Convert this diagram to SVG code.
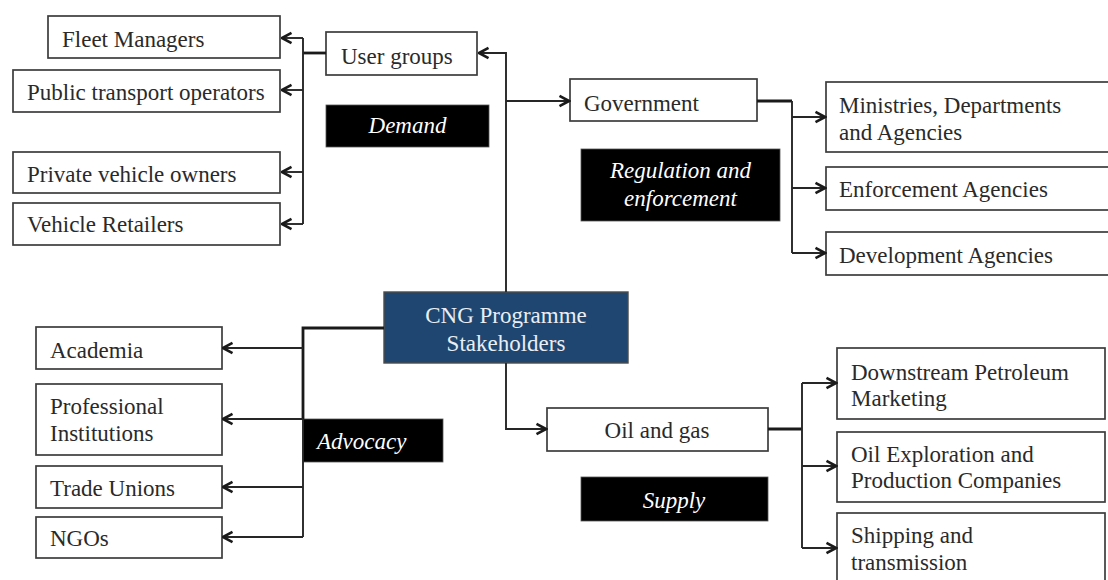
<svg xmlns="http://www.w3.org/2000/svg" width="1108" height="580" viewBox="0 0 1108 580">
  <style>
    .box { fill: #ffffff; stroke: #3c3c3c; stroke-width: 1.7; }
    .tag { fill: #000000; stroke: #555555; stroke-width: 0.8; }
    .hub { fill: #1e4671; stroke: #4a4a4a; stroke-width: 1.4; }
    .txt { font-family: "Liberation Serif", "Times New Roman", serif; font-size: 23px; fill: #2a2a2a; }
    .ital { font-family: "Liberation Serif", "Times New Roman", serif; font-size: 23px; font-style: italic; fill: #ffffff; }
    .hubtxt { font-family: "Liberation Serif", "Times New Roman", serif; font-size: 23px; fill: #e9eef4; }
    .wire { fill: none; stroke: #262626; stroke-width: 1.9; }
    .stem { fill: none; stroke: #1a1a1a; stroke-width: 2.8; }
    .arrow { fill: none; stroke: #262626; stroke-width: 1.9; marker-end: url(#chev); }
  </style>
  <defs>
    <marker id="chev" viewBox="0 0 14 14" refX="12.5" refY="7" markerWidth="14" markerHeight="14" markerUnits="userSpaceOnUse" orient="auto">
      <path d="M3,1.8 L12.5,7 L3,12.2" fill="none" stroke="#1a1a1a" stroke-width="2.6"/>
    </marker>
  </defs>

  <!-- central node -->
  <g id="hub">
    <rect class="hub" x="384" y="292" width="244" height="71"/>
    <text class="hubtxt" x="506" y="323" text-anchor="middle">CNG Programme</text>
    <text class="hubtxt" x="506" y="351" text-anchor="middle">Stakeholders</text>
  </g>

  <!-- demand branch -->
  <g id="user-groups">
    <rect class="box" x="326" y="32" width="151" height="43"/>
    <text class="txt" x="341" y="64">User groups</text>
  </g>
  <g id="demand-label">
    <rect class="tag" x="326" y="105" width="163" height="42"/>
    <text class="ital" x="407.5" y="133" text-anchor="middle">Demand</text>
  </g>
  <g id="fleet-managers">
    <rect class="box" x="48" y="16" width="232" height="42"/>
    <text class="txt" x="62" y="47">Fleet Managers</text>
  </g>
  <g id="public-transport">
    <rect class="box" x="13" y="70" width="267" height="42"/>
    <text class="txt" x="27" y="100">Public transport operators</text>
  </g>
  <g id="private-owners">
    <rect class="box" x="13" y="152" width="267" height="41"/>
    <text class="txt" x="27" y="182">Private vehicle owners</text>
  </g>
  <g id="vehicle-retailers">
    <rect class="box" x="13" y="203" width="267" height="42"/>
    <text class="txt" x="27" y="232">Vehicle Retailers</text>
  </g>

  <!-- regulation branch -->
  <g id="government">
    <rect class="box" x="570" y="79" width="187" height="42"/>
    <text class="txt" x="584" y="111">Government</text>
  </g>
  <g id="regulation-label">
    <rect class="tag" x="581" y="149" width="199" height="72"/>
    <text class="ital" x="680.5" y="178" text-anchor="middle">Regulation and</text>
    <text class="ital" x="680.5" y="206" text-anchor="middle">enforcement</text>
  </g>
  <g id="ministries">
    <rect class="box" x="826" y="82" width="290" height="70"/>
    <text class="txt" x="839" y="113">Ministries, Departments</text>
    <text class="txt" x="839" y="140">and Agencies</text>
  </g>
  <g id="enforcement">
    <rect class="box" x="826" y="167" width="290" height="43"/>
    <text class="txt" x="839" y="197">Enforcement Agencies</text>
  </g>
  <g id="development">
    <rect class="box" x="826" y="232" width="290" height="43"/>
    <text class="txt" x="839" y="263">Development Agencies</text>
  </g>

  <!-- supply branch -->
  <g id="oil-gas">
    <rect class="box" x="547" y="408" width="221" height="43"/>
    <text class="txt" x="657" y="438" text-anchor="middle">Oil and gas</text>
  </g>
  <g id="supply-label">
    <rect class="tag" x="581" y="477" width="187" height="44"/>
    <text class="ital" x="674" y="508" text-anchor="middle">Supply</text>
  </g>
  <g id="downstream">
    <rect class="box" x="837" y="348" width="268" height="71"/>
    <text class="txt" x="851" y="380">Downstream Petroleum</text>
    <text class="txt" x="851" y="406">Marketing</text>
  </g>
  <g id="exploration">
    <rect class="box" x="837" y="432" width="268" height="70"/>
    <text class="txt" x="851" y="462">Oil Exploration and</text>
    <text class="txt" x="851" y="488">Production Companies</text>
  </g>
  <g id="shipping">
    <rect class="box" x="837" y="513" width="268" height="80"/>
    <text class="txt" x="851" y="543">Shipping and</text>
    <text class="txt" x="851" y="570">transmission</text>
  </g>

  <!-- advocacy branch -->
  <g id="advocacy-label">
    <rect class="tag" x="303" y="419" width="140" height="43"/>
    <text class="ital" x="317" y="449">Advocacy</text>
  </g>
  <g id="academia">
    <rect class="box" x="36" y="327" width="186" height="42"/>
    <text class="txt" x="50" y="358">Academia</text>
  </g>
  <g id="professional">
    <rect class="box" x="36" y="384" width="186" height="71"/>
    <text class="txt" x="50" y="414">Professional</text>
    <text class="txt" x="50" y="441">Institutions</text>
  </g>
  <g id="trade-unions">
    <rect class="box" x="36" y="466" width="186" height="42"/>
    <text class="txt" x="50" y="496">Trade Unions</text>
  </g>
  <g id="ngos">
    <rect class="box" x="36" y="517" width="186" height="41"/>
    <text class="txt" x="50" y="546">NGOs</text>
  </g>

  <!-- connectors -->
  <g id="connectors">
    <!-- hub trunk to user groups and government -->
    <path class="arrow" d="M506,292 V53 H479"/>
    <path class="arrow" d="M506,101 H569"/>
    <!-- user groups fan-out -->
    <path class="stem" d="M326,53 H303"/>
    <path class="wire" d="M303,38 V224"/>
    <path class="arrow" d="M303,38 H282"/>
    <path class="arrow" d="M303,90 H282"/>
    <path class="arrow" d="M303,172 H282"/>
    <path class="arrow" d="M303,224 H282"/>
    <!-- government fan-out -->
    <path class="stem" d="M757,101 H792"/>
    <path class="wire" d="M792,101 V253"/>
    <path class="arrow" d="M792,117 H825"/>
    <path class="arrow" d="M792,188 H825"/>
    <path class="arrow" d="M792,253 H825"/>
    <!-- hub to oil and gas -->
    <path class="arrow" d="M506,363 V429 H546"/>
    <!-- oil and gas fan-out -->
    <path class="stem" d="M768,429 H802"/>
    <path class="wire" d="M802,383 V548"/>
    <path class="arrow" d="M802,383 H836"/>
    <path class="arrow" d="M802,466 H836"/>
    <path class="arrow" d="M802,548 H836"/>
    <!-- advocacy fan-out -->
    <path class="stem" d="M384,328 H303 V419"/>
    <path class="wire" d="M303,419 V537"/>
    <path class="arrow" d="M303,348 H223"/>
    <path class="arrow" d="M303,419 H223"/>
    <path class="arrow" d="M303,487 H223"/>
    <path class="arrow" d="M303,537 H223"/>
  </g>
</svg>
